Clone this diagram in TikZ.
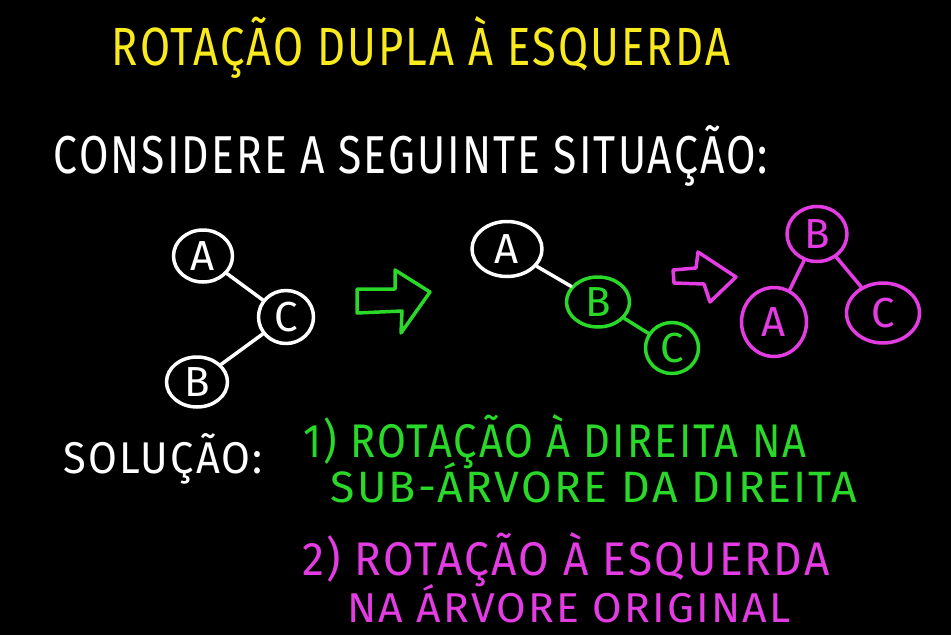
\documentclass[tikz,border=0pt]{standalone}
\usepackage{fontspec}
\setmainfont{Fira Sans}
\newfontfamily\chalkwide[LetterSpace=5]{Fira Sans}
\usetikzlibrary{shapes.geometric}
\definecolor{chalkyellow}{HTML}{F8EA1C}
\definecolor{chalkgreen}{HTML}{2AD82A}
\definecolor{chalkpink}{HTML}{E23CE2}
\newcommand{\hand}[3]{\resizebox{#1pt}{#2pt}{\chalkwide #3}}

\begin{document}
\begin{tikzpicture}[x=1pt, y=-1pt,
    line width=3.5pt, line cap=round, line join=round,
    every node/.style={inner sep=0pt},
    vert/.style={draw, ellipse, line width=3.5pt, font=\fontsize{42}{42}\selectfont},
    wvert/.style={vert, draw=white, text=white},
    gvert/.style={vert, draw=chalkgreen, text=chalkgreen},
    pvert/.style={vert, draw=chalkpink, text=chalkpink}]
  \fill[black] (0,0) rectangle (951,635);
  \useasboundingbox (0,0) rectangle (951,635);

  \node[text=chalkyellow] (title) at (421,47) {\hand{618}{49}{ROTAÇÃO DUPLA À ESQUERDA}};
  \node[text=white] (intro) at (411,156) {\hand{714}{48}{CONSIDERE A SEGUINTE SITUAÇÃO:}};

  % situation before
  \node[wvert, minimum width=59pt, minimum height=52pt] (a1) at (203,256) {A};
  \node[wvert, minimum width=55pt, minimum height=53pt] (c1) at (286,317) {C};
  \node[wvert, minimum width=61pt, minimum height=50pt] (b1) at (197,382) {B};
  \draw[white] (a1) -- (c1);
  \draw[white] (c1) -- (b1);

  \draw[chalkgreen] (357,289) -- (395,289) -- (395,270) -- (430,292) -- (401,333)
    -- (402,311) -- (357,313) -- cycle;

  % after the right rotation
  \node[wvert, minimum width=70pt, minimum height=55pt] (a2) at (507,249) {A};
  \node[gvert, minimum width=63pt, minimum height=50pt] (b2) at (598,302) {B};
  \node[gvert, minimum width=53pt, minimum height=51pt] (c2) at (672,348) {C};
  \draw[white] (a2) -- (b2);
  \draw[chalkgreen] (b2) -- (c2);

  \draw[chalkpink] (673,270) -- (696,268) -- (698,252) -- (736,277) -- (710,302)
    -- (704,284) -- (674,283) -- cycle;

  % after the left rotation
  \node[pvert, minimum width=60pt, minimum height=55pt] (b3) at (817,234) {B};
  \node[pvert, minimum width=65pt, minimum height=69pt] (a3) at (774,322) {A};
  \node[pvert, minimum width=73pt, minimum height=60pt] (c3) at (883,313) {C};
  \draw[chalkpink] (b3) -- (a3);
  \draw[chalkpink] (b3) -- (c3);

  % solution
  \node[text=white] (sol) at (163,459) {\hand{199}{40}{SOLUÇÃO:}};
  \node[text=chalkgreen] (step1a) at (555,442) {\hand{503}{43}{1) ROTAÇÃO À DIREITA NA}};
  \node[text=chalkgreen] (step1b) at (594,483) {\hand{527}{40}{SUB-ÁRVORE DA DIREITA}};
  \node[text=chalkpink] (step2a) at (566,560) {\hand{527}{43}{2) ROTAÇÃO À ESQUERDA}};
  \node[text=chalkpink] (step2b) at (569,604) {\hand{443}{38}{NA ÁRVORE ORIGINAL}};
\end{tikzpicture}
\end{document}
